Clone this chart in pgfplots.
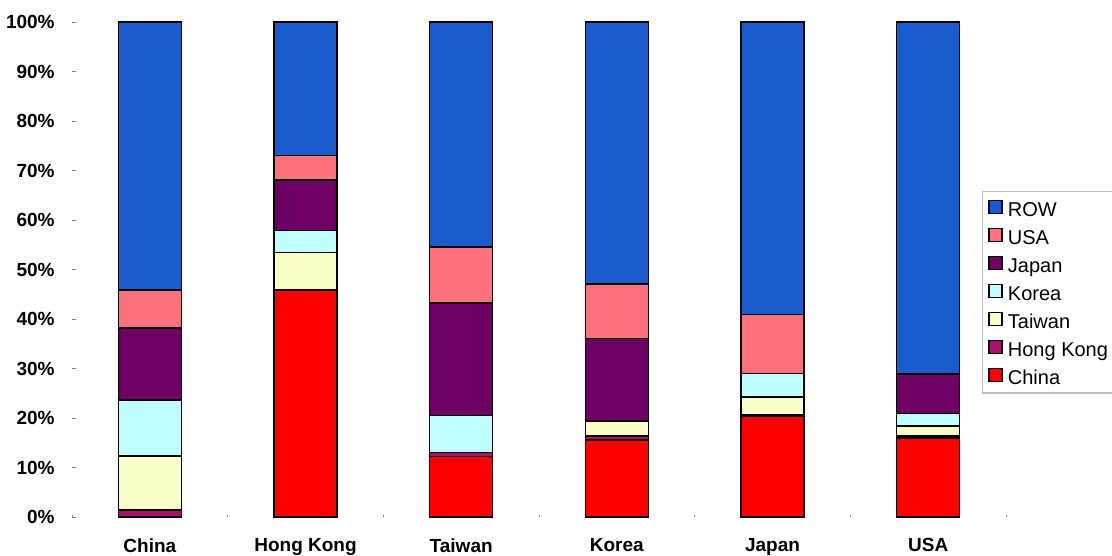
\documentclass[border=0pt]{standalone}
\usepackage{pgfplots}
\pgfplotsset{compat=1.18}
\usepackage{pgfplotstable}
\usepackage{fontspec}
\setmainfont{Liberation Sans}

\definecolor{cROW}{HTML}{1A5BCE}
\definecolor{cUSA}{HTML}{FF717C}
\definecolor{cJapan}{HTML}{6E0064}
\definecolor{cKorea}{HTML}{C0FFFF}
\definecolor{cTaiwan}{HTML}{FAFFC8}
\definecolor{cHK}{HTML}{A8126A}
\definecolor{cChina}{HTML}{FF0000}

% x: 0 China, 1 Hong Kong, 2 Taiwan, 3 Korea, 4 Japan, 5 USA (importer)
\pgfplotstableread{
x China HK Taiwan Korea Japan USA ROW
0 0.0  1.4 10.9 11.3 14.6  7.6 54.2
1 45.9 0.0  7.5  4.5 10.2  4.9 27.0
2 12.2 0.8  0.0  7.5 22.7 11.3 45.5
3 15.6 0.8  3.0  0.0 16.7 11.0 52.9
4 20.4 0.3  3.5  4.8  0.0 11.9 59.1
5 16.0 0.4  2.0  2.5  8.0  0.0 71.1
}\datatable

\begin{document}
\begin{tikzpicture}
\begin{axis}[
  name=ax,
  scale only axis,
  width=467pt, height=247.5pt,
  ybar stacked,
  bar width=31.5pt,
  xmin=-0.5, xmax=5.5,
  ymin=0, ymax=100,
  axis line style={draw=none},
  tick pos=left,
  ytick={0,10,...,100},
  yticklabel={\pgfmathprintnumber{\tick}\%},
  /pgf/number format/assume math mode=true,
  tick label style={font=\fontsize{9.5}{11}\selectfont\bfseries},
  yticklabel style={anchor=east, inner sep=0pt, xshift=-8.5pt},
  ytick style={draw=gray, line width=0.4pt},
  major tick length=2pt,
  xtick={0,...,5},
  xticklabels={China, Hong Kong, Taiwan, Korea, Japan, USA},
  xticklabel style={anchor=north, inner sep=0pt, yshift=-10.5pt},
  major x tick style={draw=none},
  minor xtick={-0.5,0.5,...,5.5},
  minor x tick style={draw=gray, line width=0.5pt},
  minor tick length=1pt,
  every axis plot/.append style={draw=black, line width=0.8pt},
  reverse legend,
  legend image code/.code={%
    \draw[#1, draw=black, line width=0.6pt] (0pt,-1.7pt) rectangle (6.5pt,4.8pt);
    \path[draw=none, fill=none] (0pt,0pt) -- (9.5pt,0pt);},
  legend style={
    at={(0.974,0.6586)}, anchor=north west,
    draw=gray!50, line width=0.6pt,
    font=\fontsize{10}{12}\selectfont,
    inner xsep=3pt, inner ysep=4pt,
    row sep=5.3pt,
    nodes={inner sep=0pt, text height=7.2pt, text depth=0pt},
    legend cell align=left,
  },
  legend cell align=left,
]
\addplot[fill=cChina]  table[x=x, y=China]  {\datatable};
\addplot[fill=cHK]     table[x=x, y=HK]     {\datatable};
\addplot[fill=cTaiwan] table[x=x, y=Taiwan] {\datatable};
\addplot[fill=cKorea]  table[x=x, y=Korea]  {\datatable};
\addplot[fill=cJapan]  table[x=x, y=Japan]  {\datatable};
\addplot[fill=cUSA]    table[x=x, y=USA]    {\datatable};
\addplot[fill=cROW]    table[x=x, y=ROW]    {\datatable};
\legend{China, Hong Kong, Taiwan, Korea, Japan, USA, ROW}
\end{axis}
\pgfresetboundingbox
\path[use as bounding box] (ax.south west) ++(-36pt,-19.5pt) rectangle ++(556pt,278pt);
\end{tikzpicture}
\end{document}
